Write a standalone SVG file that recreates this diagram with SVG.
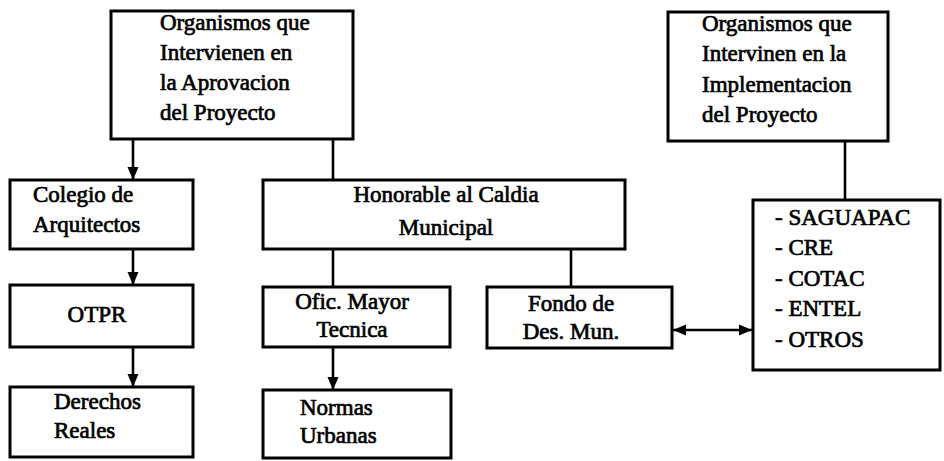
<svg xmlns="http://www.w3.org/2000/svg" width="944" height="461" viewBox="0 0 944 461">
<style>
.box{fill:#fff;stroke:#000;stroke-width:3}
.t{font-size:23px;fill:#000;stroke:#000;stroke-width:0.7}
.c{text-anchor:middle}
.ln{stroke:#000;stroke-width:2.6;fill:none}
</style>
<defs>
<marker id="ah" markerUnits="userSpaceOnUse" markerWidth="14" markerHeight="14" viewBox="0 0 14 14" refX="13" refY="7" orient="auto-start-reverse">
<path d="M0,1.5 L13,7 L0,12.5 Z" fill="#000"/>
</marker>
</defs>
<rect width="944" height="461" fill="#fff"/>
<g id="connectors">
<line class="ln" x1="133" y1="139" x2="133" y2="180" marker-end="url(#ah)"/>
<line class="ln" x1="333" y1="139" x2="333" y2="180"/>
<line class="ln" x1="133" y1="249" x2="133" y2="285" marker-end="url(#ah)"/>
<line class="ln" x1="133" y1="347" x2="133" y2="387" marker-end="url(#ah)"/>
<line class="ln" x1="333" y1="249" x2="333" y2="287"/>
<line class="ln" x1="571" y1="249" x2="571" y2="287"/>
<line class="ln" x1="333" y1="347" x2="333" y2="390" marker-end="url(#ah)"/>
<line class="ln" x1="845" y1="141" x2="845" y2="200"/>
<line class="ln" x1="673" y1="330" x2="752" y2="330" marker-start="url(#ah)" marker-end="url(#ah)"/>
</g>
<g font-family="Liberation Serif, Times New Roman, serif">
<g id="aprobacion">
<rect class="box" x="111" y="11" width="242" height="128"/>
<text class="t" x="160" y="30">Organismos que</text>
<text class="t" x="160" y="60">Intervienen en</text>
<text class="t" x="160" y="90">la Aprovacion</text>
<text class="t" x="160" y="120">del Proyecto</text>
</g>
<g id="implementacion">
<rect class="box" x="668" y="12" width="220" height="129"/>
<text class="t" x="702" y="31">Organismos que</text>
<text class="t" x="702" y="61">Intervinen en la</text>
<text class="t" x="702" y="92">Implementacion</text>
<text class="t" x="702" y="122">del Proyecto</text>
</g>
<g id="colegio">
<rect class="box" x="10" y="180" width="183" height="69"/>
<text class="t" x="33" y="202">Colegio de</text>
<text class="t" x="33" y="232">Arquitectos</text>
</g>
<g id="otpr">
<rect class="box" x="10" y="285" width="183" height="62"/>
<text class="t c" x="97" y="322">OTPR</text>
</g>
<g id="derechos">
<rect class="box" x="10" y="387" width="183" height="70"/>
<text class="t" x="54" y="409">Derechos</text>
<text class="t" x="54" y="438">Reales</text>
</g>
<g id="honorable">
<rect class="box" x="263" y="180" width="362" height="69"/>
<text class="t c" x="446" y="202">Honorable al Caldia</text>
<text class="t c" x="446" y="235">Municipal</text>
</g>
<g id="oficialia">
<rect class="box" x="263" y="287" width="187" height="60"/>
<text class="t c" x="352" y="309">Ofic. Mayor</text>
<text class="t c" x="352" y="337">Tecnica</text>
</g>
<g id="normas">
<rect class="box" x="263" y="390" width="188" height="68"/>
<text class="t" x="300" y="415">Normas</text>
<text class="t" x="300" y="443">Urbanas</text>
</g>
<g id="fondo">
<rect class="box" x="487" y="287" width="185" height="61"/>
<text class="t c" x="571" y="311">Fondo de</text>
<text class="t c" x="571" y="339">Des. Mun.</text>
</g>
<g id="entidades">
<rect class="box" x="753" y="200" width="187" height="170"/>
<text class="t" x="775" y="225">- SAGUAPAC</text>
<text class="t" x="775" y="255">- CRE</text>
<text class="t" x="775" y="286">- COTAC</text>
<text class="t" x="775" y="316">- ENTEL</text>
<text class="t" x="775" y="347">- OTROS</text>
</g>
</g>
</svg>
